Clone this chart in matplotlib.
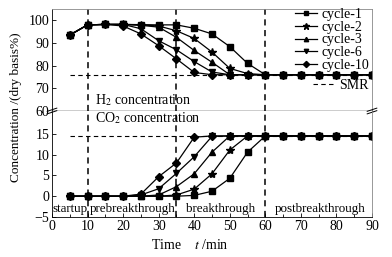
import matplotlib
matplotlib.use('Agg')
import matplotlib.pyplot as plt
from matplotlib.ticker import MultipleLocator

plt.rcParams['font.family'] = ['Liberation Serif', 'DejaVu Serif']
plt.rcParams['mathtext.fontset'] = 'stix'
plt.rcParams['font.size'] = 10

t = [5, 10, 15, 20, 25, 30, 35, 40, 45, 50, 55, 60, 65, 70, 75, 80, 85, 90]

h2_c1 = [93.5, 98, 98.2, 98.2, 98.1, 98, 98, 96.5, 94, 88.4, 81, 76, 76, 76, 76, 76, 76, 76]
h2_c2 = [93.5, 98, 98.2, 98.2, 98, 97.5, 95.4, 92, 86, 78.8, 76.5, 76, 76, 76, 76, 76, 76, 76]
h2_c3 = [93.5, 98, 98.2, 98.2, 97.8, 97, 92.5, 86.7, 81.5, 76, 76, 76, 76, 76, 76, 76, 76, 76]
h2_c6 = [93.5, 98, 98.2, 98.2, 96.3, 91, 87, 81.8, 77.2, 76, 76, 76, 76, 76, 76, 76, 76, 76]
h2_c10 = [93.5, 98, 98.2, 97.5, 94, 88.8, 83, 77, 76, 76, 76, 76, 76, 76, 76, 76, 76, 76]

co2_c1 = [0, 0, 0, 0, 0, 0, 0, 0.2, 1.2, 4.3, 10.6, 14.5, 14.5, 14.5, 14.5, 14.5, 14.5, 14.5]
co2_c2 = [0, 0, 0, 0, 0, 0, 0.3, 1.7, 5.4, 11.1, 14.5, 14.5, 14.5, 14.5, 14.5, 14.5, 14.5, 14.5]
co2_c3 = [0, 0, 0, 0, 0, 0.3, 2.3, 5.4, 10.6, 14.5, 14.5, 14.5, 14.5, 14.5, 14.5, 14.5, 14.5, 14.5]
co2_c6 = [0, 0, 0, 0, 0.3, 1.8, 5.5, 9.5, 14.4, 14.5, 14.5, 14.5, 14.5, 14.5, 14.5, 14.5, 14.5, 14.5]
co2_c10 = [0, 0, 0, 0, 0.5, 4.7, 8.0, 14.2, 14.5, 14.5, 14.5, 14.5, 14.5, 14.5, 14.5, 14.5, 14.5, 14.5]

smr_h2 = 76
smr_co2 = 14.5
phase_bounds = [10, 35, 60]
labels = ['cycle-1', 'cycle-2', 'cycle-3', 'cycle-6', 'cycle-10']
markers = ['s', '*', '^', 'v', 'D']
phases = [('startup', 5.2), ('prebreakthrough', 22.6), ('breakthrough', 47.3), ('postbreakthrough', 75.3)]

fig = plt.figure(figsize=(3.92, 2.57), dpi=100)
left, right = 52 / 392, 372 / 392
split = 1 - 111 / 257
bottom, top = 1 - 217 / 257, 1 - 9 / 257
ax_up = fig.add_axes([left, split, right - left, top - split])
ax_lo = fig.add_axes([left, bottom, right - left, split - bottom])

h2 = [h2_c1, h2_c2, h2_c3, h2_c6, h2_c10]
co2 = [co2_c1, co2_c2, co2_c3, co2_c6, co2_c10]
handles = []
for ys, m, lab in zip(h2, markers, labels):
    ms = 6 if m == '*' else 4.2
    ln, = ax_up.plot(t, ys, color='black', lw=0.9, marker=m, ms=ms, label=lab)
    handles.append(ln)
for ys, m in zip(co2, markers):
    ms = 6 if m == '*' else 4.2
    ax_lo.plot(t, ys, color='black', lw=0.9, marker=m, ms=ms)

smr_ln, = ax_up.plot([5, 90], [smr_h2, smr_h2], color='black', lw=0.8, ls=(0, (4, 3)), label='SMR')
ax_lo.plot([5, 90], [smr_co2, smr_co2], color='black', lw=0.8, ls=(0, (4, 3)))

for ax in (ax_up, ax_lo):
    for xb in phase_bounds:
        ax.axvline(xb, color='black', lw=1.1, ls=(0, (4, 3)))
    ax.set_xlim(0, 90)
    ax.tick_params(direction='in', length=3, width=0.6, labelsize=10, pad=2)
    ax.tick_params(which='minor', direction='in', length=2, width=0.6)
    for s in ax.spines.values():
        s.set_linewidth(0.6)
    ax.spines['right'].set_color('#888888')

ax_up.set_ylim(60, 105)
ax_up.set_yticks([60, 70, 80, 90, 100])
ax_up.set_xticks([])
ax_up.spines['bottom'].set_linewidth(1.0)
ax_up.spines['top'].set_color('#888888')

ax_lo.set_ylim(-5, 20.5)
ax_lo.set_yticks([-5, 0, 5, 10, 15])
ax_lo.set_yticklabels(['\u22125', '0', '5', '10', '15'])
ax_lo.set_xticks(range(0, 91, 10))
ax_lo.xaxis.set_minor_locator(MultipleLocator(5))
ax_lo.spines['top'].set_visible(False)

ax_up.text(12.2, 64.9, 'H$_2$ concentration', va='center', ha='left', fontsize=10)
ax_lo.text(12.2, 18.8, 'CO$_2$ concentration', va='center', ha='left', fontsize=10)
for name, xc in phases:
    ax_lo.text(xc, -3.0, name, ha='center', va='center', fontsize=9.4)

fig.legend(handles=handles, loc='upper right', frameon=False, fontsize=10,
           handlelength=1.6, handletextpad=0.3, labelspacing=-0.02, markerscale=0.75,
           borderpad=0, borderaxespad=0,
           bbox_to_anchor=(369 / 392, 1 - 8 / 257), bbox_transform=fig.transFigure)
fig.legend(handles=[smr_ln], loc='upper right', frameon=False, fontsize=10,
           handlelength=1.6, handletextpad=0.3, borderpad=0, borderaxespad=0,
           bbox_to_anchor=(369 / 392, 1 - 79 / 257), bbox_transform=fig.transFigure)

# break marks
for xa in (0, 1):
    for dy in (-0.012, 0.012):
        ax_lo.plot([xa - 0.015, xa + 0.015], [1 + dy - 0.015, 1 + dy + 0.015],
                   transform=ax_lo.transAxes, color='black', lw=0.7, clip_on=False)

fig.text(16 / 392, 1 - 107 / 257, 'Concentration /(dry basis%)', rotation=90,
         ha='center', va='center', fontsize=9.5)
fig.text(190 / 392, 1 - 245 / 257, 'Time    $t$ /min', ha='center', va='center', fontsize=10)

fig.savefig('out.png', dpi=100)
